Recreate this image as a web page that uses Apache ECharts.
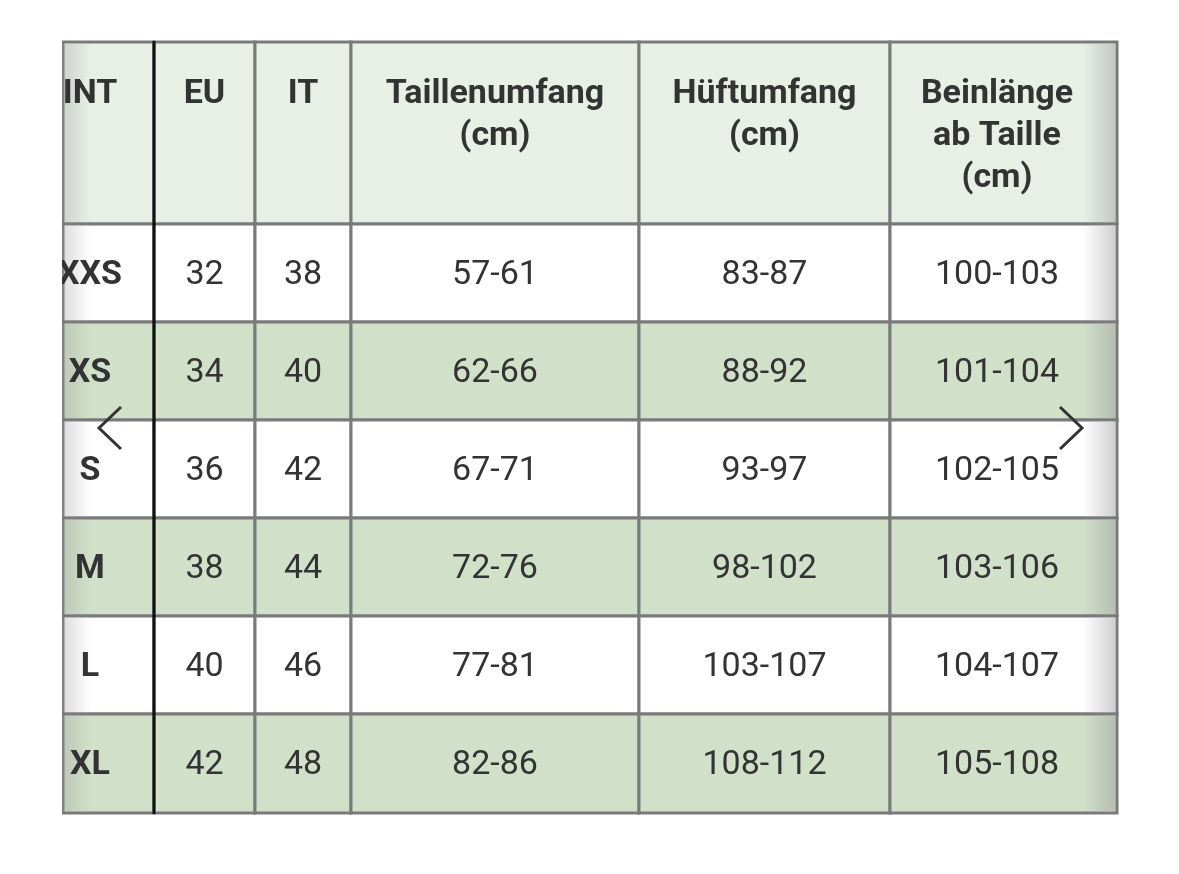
<!DOCTYPE html>
<html><head><meta charset="utf-8">
<script src="https://cdn.jsdelivr.net/npm/echarts@6/dist/echarts.min.js"></script>
<style>html,body{margin:0;background:#fff}#c{width:1179px;height:874px}</style>
</head><body><div id="c"></div>
<script>
const headers = ['INT', 'EU', 'IT', 'Taillenumfang\n(cm)', 'Hüftumfang\n(cm)', 'Beinlänge\nab Taille\n(cm)'];
const sizes = ['XXS', 'XS', 'S', 'M', 'L', 'XL'];
const eu = ['32', '34', '36', '38', '40', '42'];
const it = ['38', '40', '42', '44', '46', '48'];
const waist = ['57-61', '62-66', '67-71', '72-76', '77-81', '82-86'];
const hip = ['83-87', '88-92', '93-97', '98-102', '103-107', '108-112'];
const inseam = ['100-103', '101-104', '102-105', '103-106', '104-107', '105-108'];

// layout (pixels)
const colX = [63, 154, 255, 351, 639, 890, 1117];
const rowY = [42, 224, 322, 420, 518, 616, 714, 813];

const columns = [sizes, eu, it, waist, hip, inseam];
const cells = [];
headers.forEach((h, c) => cells.push([c, 0, h]));
for (let r = 0; r < sizes.length; r++) {
  columns.forEach((col, c) => cells.push([c, r + 1, col[r]]));
}

const chart = echarts.init(document.getElementById('c'));
chart.setOption({
  animation: false,
  grid: { left: 0, right: 0, top: 0, bottom: 0 },
  xAxis: { type: 'value', min: 0, max: 1179, show: false },
  yAxis: { type: 'value', min: 0, max: 874, inverse: true, show: false },
  series: [{
    type: 'custom',
    data: cells,
    encode: { x: 0, y: 1 },
    renderItem: (params, api) => {
      const c = api.value(0), r = api.value(1), txt = cells[params.dataIndex][2];
      const p0 = api.coord([colX[c], rowY[r]]);
      const p1 = api.coord([colX[c + 1], rowY[r + 1]]);
      const fill = r === 0 ? '#e8f0e6' : (r % 2 === 0 ? '#d1e0c9' : '#ffffff');
      const bold = r === 0 || c === 0;
      let cx = (p0[0] + p1[0]) / 2;
      if (c === 0) cx = 90;
      if (c === 5) cx = 997;
      const children = [
        { type: 'rect', shape: { x: p0[0], y: p0[1], width: p1[0] - p0[0], height: p1[1] - p0[1] },
          style: { fill, stroke: '#7a7a7a', lineWidth: 3 } },
        { type: 'text', z2: 5, style: { x: cx, y: r === 0 ? p0[1] + 31 : (p0[1] + p1[1]) / 2 + 2,
          text: txt, fill: '#333', font: (bold ? 'bold ' : '') + '34px Roboto',
          align: 'center', verticalAlign: r === 0 ? 'top' : 'middle', lineHeight: 42 } }
      ];
      if (c === 5) {
        children.push({ type: 'rect', z2: 3, shape: { x: p1[0] - 34, y: p0[1] + 2, width: 32, height: p1[1] - p0[1] - 4 },
          style: { fill: new echarts.graphic.LinearGradient(0, 0, 1, 0, [
            { offset: 0, color: 'rgba(150,150,150,0)' }, { offset: 1, color: 'rgba(150,150,150,0.45)' }]) } });
      }
      if (c === 0) {
        children.push({ type: 'rect', z2: 3, shape: { x: p0[0] - 2, y: p0[1] + 2, width: 30, height: p1[1] - p0[1] - 4 },
          style: { fill: new echarts.graphic.LinearGradient(0, 0, 1, 0, [
            { offset: 0, color: 'rgba(150,150,150,0.35)' }, { offset: 1, color: 'rgba(150,150,150,0)' }]) } });
        children.push({ type: 'line', z2: 100, shape: { x1: p1[0], y1: p0[1] - 1, x2: p1[0], y2: p1[1] + 1 },
          style: { stroke: '#111', lineWidth: 3 } });
      }
      return { type: 'group', children };
    }
  }],
  graphic: [
    { type: 'rect', shape: { x: 0, y: 0, width: 62, height: 874 }, style: { fill: '#fff' }, z: 100 },
    { type: 'polyline', shape: { points: [[121, 407], [99, 428], [121, 449]] },
      style: { stroke: '#333', lineWidth: 3, fill: null }, z: 100 },
    { type: 'polyline', shape: { points: [[1060, 407], [1082, 428], [1060, 449]] },
      style: { stroke: '#333', lineWidth: 3, fill: null }, z: 100 }
  ]
});
</script></body></html>
